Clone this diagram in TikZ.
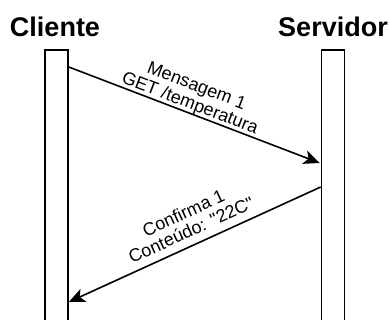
\documentclass[tikz,border=0pt]{standalone}
\usepackage{fontspec}
\setmainfont{Liberation Sans}
% label font without TeX ligature mapping, so " stays a straight quote
\newfontfamily\lblfont{Liberation Sans}
\usetikzlibrary{arrows.meta,calc}
\begin{document}
\begin{tikzpicture}[x=1pt,y=-1pt,
  title/.style={font=\fontsize{27}{29}\selectfont\bfseries, anchor=base},
  lifebox/.style={draw, line width=1.6pt, minimum width=23pt, minimum height=290pt, anchor=north, inner sep=0pt},
  msg/.style={line width=1.6pt, -{Stealth[length=16pt,width=14pt,inset=4pt]}},
  msglabel/.style={font=\lblfont\fontsize{18}{18.5}\selectfont, align=center, sloped, inner sep=0.5pt}
]
  \useasboundingbox (0,0) rectangle (390,320);
  \clip (0,0) rectangle (390,320);

  % participants
  \node[title] (tcli) at (55,37) {Cliente};
  \node[title] (tsrv) at (333,37) {Servidor};

  % activation bars
  \node[lifebox] (cli) at (56.5,49) {};
  \node[lifebox] (srv) at (333,49) {};

  % message endpoints on the bars
  \coordinate (m1s) at ($(cli.north east)+(0,18)$);
  \coordinate (m1e) at ($(srv.north west)+(-1,114)$);
  \coordinate (m2s) at ($(srv.north west)+(0,138)$);
  \coordinate (m2e) at ($(cli.north east)+(0,253)$);

  % request
  \draw[msg] (m1s) -- node[msglabel, above, pos=0.47, yshift=-1pt] (l1) {Mensagem 1\\GET /temperatura} (m1e);

  % reply
  \draw[msg] (m2s) -- node[msglabel, above, pos=0.49, yshift=7pt] (l2) {Confirma 1\\Conteúdo: "22C"} (m2e);
\end{tikzpicture}
\end{document}
